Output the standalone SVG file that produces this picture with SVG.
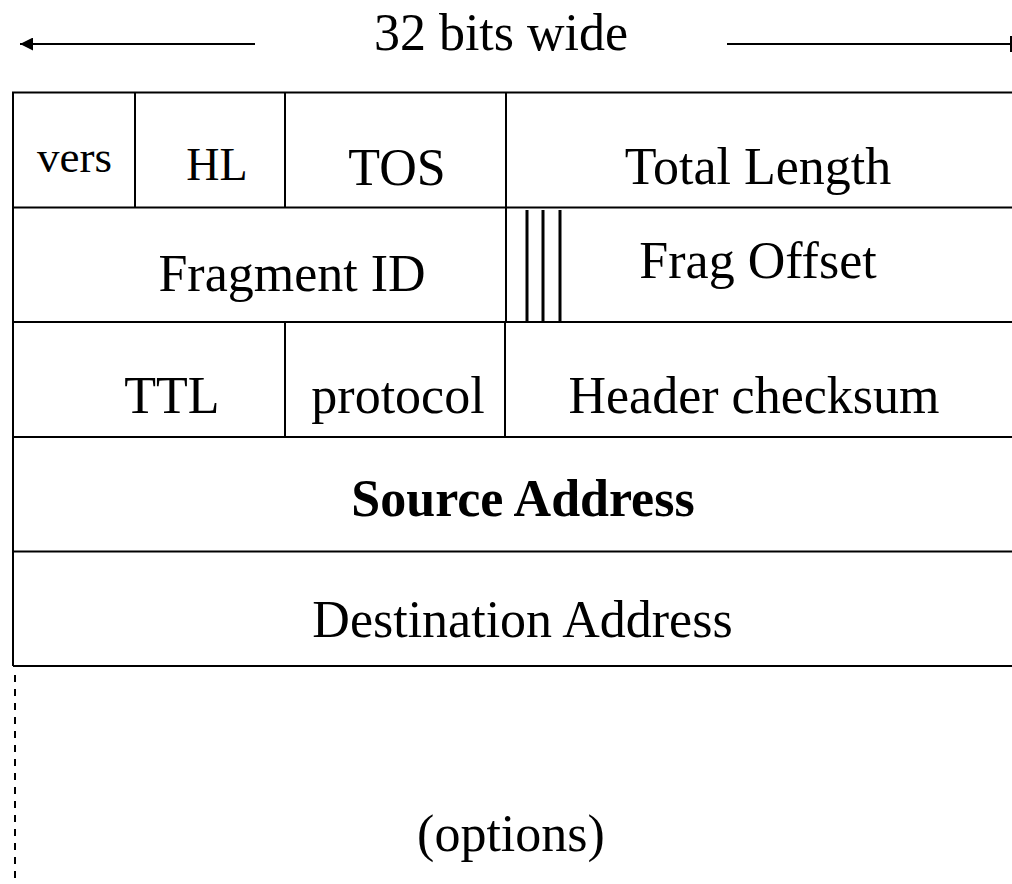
<svg xmlns="http://www.w3.org/2000/svg" width="1012" height="884" viewBox="0 0 1012 884">
<style>
text{font-family:"Liberation Serif","Times New Roman",serif;font-size:52px;fill:#000;text-anchor:middle}
.b{font-weight:bold}
.ln{stroke:#000;stroke-width:2;fill:none}
.fl{stroke:#000;stroke-width:3;fill:none}
</style>
<defs>
<marker id="ah" viewBox="0 0 10 10" refX="10" refY="5" markerWidth="16" markerHeight="13" markerUnits="userSpaceOnUse" orient="auto"><path d="M0,0L10,5L0,10z" fill="#000"/></marker>
</defs>
<g id="title">
<text x="501" y="50">32 bits wide</text>
</g>
<g id="connectors">
<line class="ln" x1="255" y1="44" x2="20" y2="44" marker-end="url(#ah)"/>
<line class="ln" x1="727" y1="44" x2="1012" y2="44"/>
<line class="ln" x1="1011" y1="36" x2="1011" y2="52"/>
<line x1="15" y1="675" x2="15" y2="884" stroke="#000" stroke-width="2" stroke-dasharray="7,7"/>
</g>
<g id="grid">
<path class="ln" d="M13,666V92.5H1012M13,207.5H1012M13,322H1012M13,437H1012M13,551.5H1012M13,666H1012"/>
<path class="ln" d="M135,92.5V207.5M285,92.5V207.5M506,92.5V322M285,322V437M505,322V437"/>
<path class="fl" d="M527,210V322M543,210V322M560,210V322"/>
</g>
<g id="vers"><text x="74.5" y="172" style="font-size:45px">vers</text></g>
<g id="hl"><text x="217" y="180" style="font-size:46px">HL</text></g>
<g id="tos"><text x="397" y="185">TOS</text></g>
<g id="total-length"><text x="758" y="184">Total Length</text></g>
<g id="fragment-id"><text x="292" y="291">Fragment ID</text></g>
<g id="frag-offset"><text x="758" y="278">Frag Offset</text></g>
<g id="ttl"><text x="172" y="413">TTL</text></g>
<g id="protocol"><text x="398" y="413">protocol</text></g>
<g id="checksum"><text x="754" y="413">Header checksum</text></g>
<g id="source"><text class="b" x="523" y="516">Source Address</text></g>
<g id="destination"><text x="522.5" y="637">Destination Address</text></g>
<g id="options"><text x="511" y="851">(options)</text></g>
</svg>
